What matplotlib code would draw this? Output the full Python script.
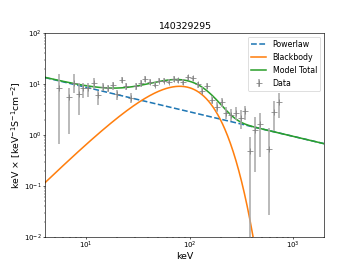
import numpy as np
import matplotlib
matplotlib.use("Agg")
import matplotlib.pyplot as plt

# data points (keV, flux, lower bound, upper bound)
energy = [5.50, 6.88, 7.70, 8.48, 9.35, 10.38, 11.79, 13.09, 14.53, 16.14,
          18.05, 19.89, 22.09, 24.53, 27.44, 30.46, 33.83, 37.27, 41.40, 45.96,
          51.04, 57.09, 63.38, 70.39, 78.15, 86.78, 96.3, 107.8, 119.7, 132.9,
          147.5, 163.8, 183.2, 205.0, 225.9, 252.7, 280.6, 311.5, 345.9, 384.1,
          426.6, 477.1, 592.7, 657.9, 730.4]
flux = [8.20, 5.62, 10.3, 6.25, 8.20, 8.20, 10.6, 6.07, 8.85, 8.20,
        9.55, 6.25, 12.0, 9.14, 5.37, 9.14, 10.3, 12.7, 11.1, 9.70,
        11.6, 11.6, 11.1, 12.7, 11.8, 11.1, 13.5, 12.9, 9.85, 7.38,
        9.14, 4.83, 3.57, 4.35, 2.72, 2.44, 2.64, 2.20, 2.93, 0.476,
        1.27, 1.67, 0.537, 2.84, 4.35]
flux_hi = [15.7, 8.20, 15.7, 10.3, 10.3, 10.3, 13.1, 7.38, 10.3, 9.55,
           11.1, 7.62, 13.5, 10.6, 6.55, 10.3, 12.0, 14.4, 12.6, 11.1,
           13.1, 13.1, 12.6, 14.4, 13.3, 12.6, 15.1, 14.4, 11.1, 8.59,
           10.3, 5.80, 4.48, 5.37, 3.46, 3.21, 3.46, 3.07, 3.68, 0.91,
           2.26, 2.64, 1.37, 4.6, 6.55]
flux_lo = [0.674, 1.06, 6.55, 2.44, 5.21, 5.62, 7.85, 3.85, 7.38, 7.06,
           7.62, 4.83, 10.3, 7.62, 4.29, 7.62, 8.85, 11.1, 9.55, 8.59,
           10.3, 10.3, 9.85, 11.1, 10.5, 9.55, 12.0, 11.5, 8.47, 6.25,
           7.85, 4.03, 2.84, 3.46, 2.10, 1.89, 2.01, 1.33, 1.95, 0.001,
           0.192, 0.368, 0.0268, 1.2, 2.2]

# fitted model parameters
pl_norm = 2.85     # at 100 keV
pl_index = 2.48
bb_norm = 2.736e-4
bb_kT = 28.5

e = np.logspace(np.log10(4), np.log10(2000), 600)
powerlaw = pl_norm * (e / 100.0) ** (2 - pl_index)
blackbody = bb_norm * e**3 / (np.exp(e / bb_kT) - 1)
total = powerlaw + blackbody

flux = np.array(flux)
yerr = [flux - np.array(flux_lo), np.array(flux_hi) - flux]

fig, ax = plt.subplots(figsize=(6.4, 4.8), dpi=56.25)
fig.subplots_adjust(left=0.125, right=0.9, bottom=0.122, top=0.878)
ax.plot(e, powerlaw, '--', color='tab:blue', lw=2, label='Powerlaw')
ax.plot(e, blackbody, color='tab:orange', lw=2, label='Blackbody')
ax.plot(e, total, color='tab:green', lw=2, label='Model Total')
ax.errorbar(energy, flux, yerr=yerr, fmt='+', color='grey', ms=8,
            ecolor='darkgrey', elinewidth=2, label='Data')

ax.set_xscale('log')
ax.set_yscale('log')
ax.set_xlim(4, 2000)
ax.set_ylim(1e-2, 1e2)
ax.tick_params(which='major', length=2.5, pad=1.5, labelsize=9)
ax.tick_params(which='minor', length=1.5)
ax.set_title('140329295', fontsize=12, pad=5)
ax.set_xlabel('keV', fontsize=12, labelpad=1)
ax.set_ylabel(r'keV × [keV$^{-1}$S$^{-1}$cm$^{-2}$]', fontsize=12, labelpad=2)
ax.legend(loc='upper right')

fig.savefig('out.png', dpi=56.25)
